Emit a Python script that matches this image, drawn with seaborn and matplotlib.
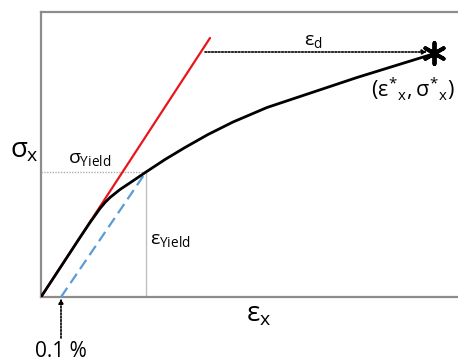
import matplotlib
matplotlib.use("Agg")
import matplotlib.pyplot as plt
import seaborn as sns
import pandas as pd

# stress-strain curve (strain in %, stress in MPa)
strain = [0.0, 0.095, 0.195, 0.245, 0.27, 0.295, 0.32, 0.345, 0.395, 0.455,
          0.525, 0.62, 0.72, 0.835, 0.96, 1.13, 1.295, 1.58, 1.96]
stress = [0, 58, 119, 149, 163, 177, 189, 199, 215, 231,
          250, 275, 299, 325, 350, 379, 401, 439, 486]

# elastic (red) tangent line
elastic_strain = [0.0, 0.845]
elastic_stress = [0, 518]

# 0.1 % offset line (blue dashed)
offset_strain = [0.1, 0.525]
offset_stress = [0, 250]

yield_strain = 0.525
yield_stress = 250
ult_strain = 1.965
ult_stress = 488
ed_start = 0.82

sns.set_style("white")
plt.rcParams["font.family"] = ["Open Sans", "DejaVu Sans"]
plt.rcParams["mathtext.fontset"] = "custom"
plt.rcParams["mathtext.rm"] = "Open Sans"
plt.rcParams["mathtext.it"] = "Open Sans"
plt.rcParams["mathtext.bf"] = "Open Sans:bold"

fig = plt.figure(figsize=(4.58, 3.62), dpi=100)
ax = fig.add_axes([41 / 458, 65 / 362, 1 - 41 / 458, 285 / 362])

df = pd.DataFrame({"strain": strain, "stress": stress})
sns.lineplot(data=df, x="strain", y="stress", color="black", lw=2, ax=ax,
             sort=False, zorder=4)
ax.plot(elastic_strain, elastic_stress, color="#e8161b", lw=1.6, zorder=3)
ax.plot(offset_strain, offset_stress, color="#5b9bd5", lw=1.6,
        dashes=(5, 2.6), zorder=3)

# yield guide lines
ax.plot([0, yield_strain], [yield_stress, yield_stress], color="#b0b0b0",
        lw=1, ls=(0, (1, 1)), zorder=2)
ax.plot([yield_strain, yield_strain], [0, yield_stress], color="#c0c0c0",
        lw=1, zorder=2)

# ultimate point
sns.scatterplot(x=[ult_strain], y=[ult_stress], marker=(6, 2, 0), s=230,
                color="black", linewidth=2.8, ax=ax, zorder=5)

# epsilon_d arrow
ax.annotate("", xy=(ult_strain - 0.035, ult_stress + 2), xytext=(ed_start, ult_stress + 2),
            arrowprops=dict(arrowstyle="-|>", color="black", lw=1.2,
                            ls=(0, (1, 1)), mutation_scale=7,
                            shrinkA=0, shrinkB=0))

# 0.1 % arrow below the axis
ax.annotate("", xy=(0.1, -3), xytext=(0.1, -82),
            arrowprops=dict(arrowstyle="-|>", color="black", lw=1.2,
                            ls=(0, (1, 1)), mutation_scale=7,
                            shrinkA=0, shrinkB=0),
            annotation_clip=False)

ax.set_xlim(0, 2.085)
ax.set_ylim(0, 570)
ax.set_xlabel("")
ax.set_ylabel("")
ax.set_xticks([])
ax.set_yticks([])
for side in ["left", "bottom", "top"]:
    ax.spines[side].set_color("#8c8c8c")
    ax.spines[side].set_linewidth(1.6)
ax.spines["right"].set_visible(False)

kw = dict(color="black", va="baseline", clip_on=False)
ax.text(-0.155, 278, r"$\sigma_x$", fontsize=20, ha="left", **kw)
ax.text(1.025, -48, r"$ε_x$", fontsize=20, ha="left", **kw)
ax.text(0.135, 268, r"$\sigma_{Yield}$", fontsize=14, ha="left", **kw)
ax.text(0.545, 106, r"$ε_{Yield}$", fontsize=14, ha="left", **kw)
ax.text(1.315, 504, r"$ε_d$", fontsize=14, ha="left", **kw)
ax.text(1.648, 400, r"$(ε^{*}{}_{x}, \sigma^{*}{}_{x})$", fontsize=15.5,
        ha="left", **kw)
ax.text(0.0975, -120, "0.1 %", fontsize=15, ha="center", **kw)

fig.savefig("out.png", dpi=100)
